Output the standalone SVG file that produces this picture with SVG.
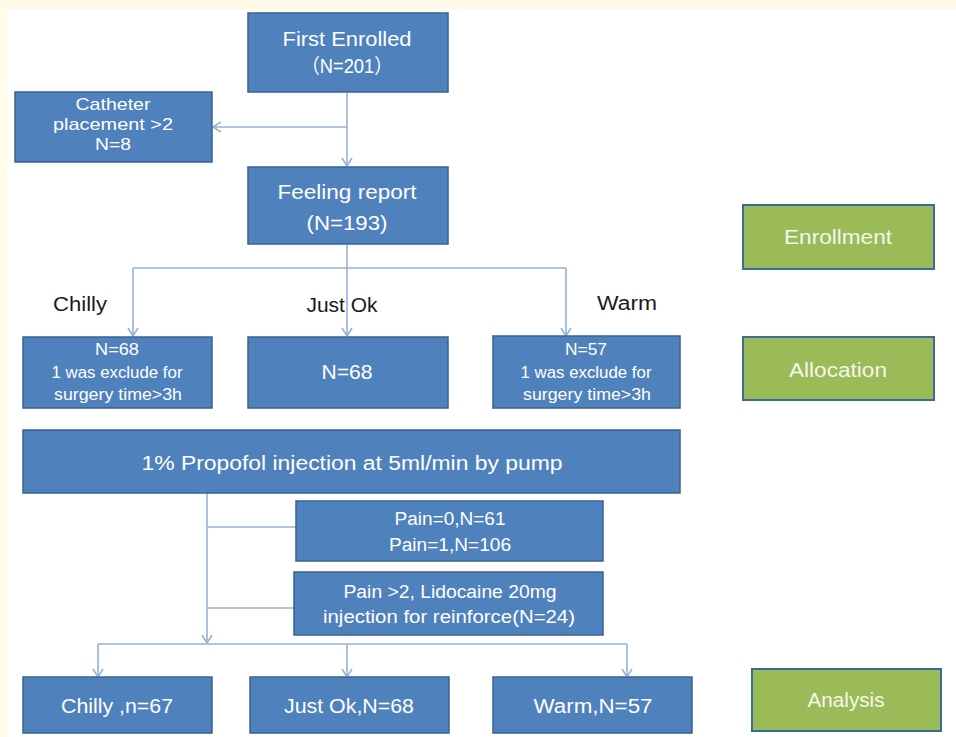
<svg xmlns="http://www.w3.org/2000/svg" width="956" height="737" viewBox="0 0 956 737">
<defs>
<style>
.bg{fill:#fffbe8}
.box{fill:#4f81bd;stroke:#3a6291;stroke-width:1.5}
.gbox{fill:#9bbb59;stroke:#3b6a9c;stroke-width:2}
.t{font-family:"Liberation Sans","Noto Sans CJK SC",sans-serif;fill:#ffffff;text-anchor:middle}
.lbl{font-family:"Liberation Sans",sans-serif;fill:#1a1a1a;text-anchor:middle;font-size:20px}
.gt{font-family:"Liberation Sans",sans-serif;fill:#f4f7ea;text-anchor:middle;font-size:20px}
.c{fill:none;stroke:#95b3d7;stroke-width:1.6}
</style>
<marker id="arr" markerWidth="12" markerHeight="12" refX="10" refY="6" orient="auto" markerUnits="userSpaceOnUse">
<path d="M2,1 L10,6 L2,11" fill="none" stroke="#95b3d7" stroke-width="1.6"/>
</marker>
</defs>
<rect class="bg" x="0" y="0" width="956" height="737"/>
<rect x="7" y="10" width="949" height="727" fill="#ffffff"/>

<g id="connectors">
<path class="c" d="M347,92 V166" marker-end="url(#arr)"/>
<path class="c" d="M347,127 H213" marker-end="url(#arr)"/>
<path class="c" d="M347,244 V336" marker-end="url(#arr)"/>
<path class="c" d="M133,268 H566"/>
<path class="c" d="M133,268 V336" marker-end="url(#arr)"/>
<path class="c" d="M566,268 V336" marker-end="url(#arr)"/>
<path class="c" d="M207,493 V643" marker-end="url(#arr)"/>
<path class="c" d="M207,527 H296"/>
<path class="c" d="M207,608 H294"/>
<path class="c" d="M98,644 H627"/>
<path class="c" d="M98,644 V677" marker-end="url(#arr)"/>
<path class="c" d="M347,644 V677" marker-end="url(#arr)"/>
<path class="c" d="M627,644 V677" marker-end="url(#arr)"/>
</g>

<g id="first-enrolled">
<rect class="box" x="248" y="13" width="200" height="79"/>
<text class="t" x="347" y="46" font-size="20" textLength="129" lengthAdjust="spacingAndGlyphs">First Enrolled</text>
<text class="t" x="347" y="73" font-size="20" textLength="91" lengthAdjust="spacingAndGlyphs">（N=201）</text>
</g>

<g id="catheter">
<rect class="box" x="15" y="92" width="197" height="70"/>
<text class="t" x="113" y="110" font-size="17" textLength="75" lengthAdjust="spacingAndGlyphs">Catheter</text>
<text class="t" x="113" y="130" font-size="17" textLength="120" lengthAdjust="spacingAndGlyphs">placement &gt;2</text>
<text class="t" x="113" y="150" font-size="17" textLength="36" lengthAdjust="spacingAndGlyphs">N=8</text>
</g>

<g id="feeling-report">
<rect class="box" x="248" y="167" width="200" height="77"/>
<text class="t" x="347" y="199" font-size="20" textLength="139" lengthAdjust="spacingAndGlyphs">Feeling report</text>
<text class="t" x="347" y="230" font-size="20" textLength="81" lengthAdjust="spacingAndGlyphs">(N=193)</text>
</g>

<g id="labels">
<text class="lbl" x="80" y="311" textLength="54" lengthAdjust="spacingAndGlyphs">Chilly</text>
<text class="lbl" x="342" y="312" textLength="71" lengthAdjust="spacingAndGlyphs">Just Ok</text>
<text class="lbl" x="627" y="310" textLength="60" lengthAdjust="spacingAndGlyphs">Warm</text>
</g>

<g id="chilly-alloc">
<rect class="box" x="23" y="337" width="189" height="71"/>
<text class="t" x="117" y="355" font-size="16" textLength="44" lengthAdjust="spacingAndGlyphs">N=68</text>
<text class="t" x="117" y="378" font-size="16" textLength="131" lengthAdjust="spacingAndGlyphs">1 was exclude for</text>
<text class="t" x="118" y="400" font-size="16" textLength="128" lengthAdjust="spacingAndGlyphs">surgery time&gt;3h</text>
</g>

<g id="justok-alloc">
<rect class="box" x="248" y="337" width="200" height="71"/>
<text class="t" x="347" y="379" font-size="21" textLength="51" lengthAdjust="spacingAndGlyphs">N=68</text>
</g>

<g id="warm-alloc">
<rect class="box" x="493" y="336" width="187" height="72"/>
<text class="t" x="586" y="355" font-size="16" textLength="42" lengthAdjust="spacingAndGlyphs">N=57</text>
<text class="t" x="586" y="378" font-size="16" textLength="131" lengthAdjust="spacingAndGlyphs">1 was exclude for</text>
<text class="t" x="587" y="400" font-size="16" textLength="128" lengthAdjust="spacingAndGlyphs">surgery time&gt;3h</text>
</g>

<g id="enrollment">
<rect class="gbox" x="743" y="205" width="191" height="64"/>
<text class="gt" x="838" y="244" textLength="108" lengthAdjust="spacingAndGlyphs">Enrollment</text>
</g>

<g id="allocation">
<rect class="gbox" x="743" y="337" width="191" height="63"/>
<text class="gt" x="838" y="377" textLength="98" lengthAdjust="spacingAndGlyphs">Allocation</text>
</g>

<g id="propofol">
<rect class="box" x="23" y="430" width="657" height="63"/>
<text class="t" x="352" y="470" font-size="20" textLength="421" lengthAdjust="spacingAndGlyphs">1% Propofol injection at 5ml/min by pump</text>
</g>

<g id="pain-low">
<rect class="box" x="296" y="501" width="307" height="60"/>
<text class="t" x="450" y="525" font-size="18" textLength="111" lengthAdjust="spacingAndGlyphs">Pain=0,N=61</text>
<text class="t" x="450" y="551" font-size="18" textLength="122" lengthAdjust="spacingAndGlyphs">Pain=1,N=106</text>
</g>

<g id="pain-high">
<rect class="box" x="294" y="572" width="309" height="63"/>
<text class="t" x="450" y="598" font-size="18" textLength="213" lengthAdjust="spacingAndGlyphs">Pain &gt;2, Lidocaine 20mg</text>
<text class="t" x="449" y="623" font-size="18" textLength="252" lengthAdjust="spacingAndGlyphs">injection for reinforce(N=24)</text>
</g>

<g id="chilly-final">
<rect class="box" x="23" y="677" width="189" height="56"/>
<text class="t" x="117" y="713" font-size="20" textLength="112" lengthAdjust="spacingAndGlyphs">Chilly ,n=67</text>
</g>

<g id="justok-final">
<rect class="box" x="250" y="677" width="199" height="56"/>
<text class="t" x="349" y="713" font-size="20" textLength="130" lengthAdjust="spacingAndGlyphs">Just Ok,N=68</text>
</g>

<g id="warm-final">
<rect class="box" x="493" y="677" width="199" height="56"/>
<text class="t" x="593" y="713" font-size="20" textLength="119" lengthAdjust="spacingAndGlyphs">Warm,N=57</text>
</g>

<g id="analysis">
<rect class="gbox" x="752" y="669" width="189" height="62"/>
<text class="gt" x="846" y="707" textLength="77" lengthAdjust="spacingAndGlyphs">Analysis</text>
</g>
</svg>
